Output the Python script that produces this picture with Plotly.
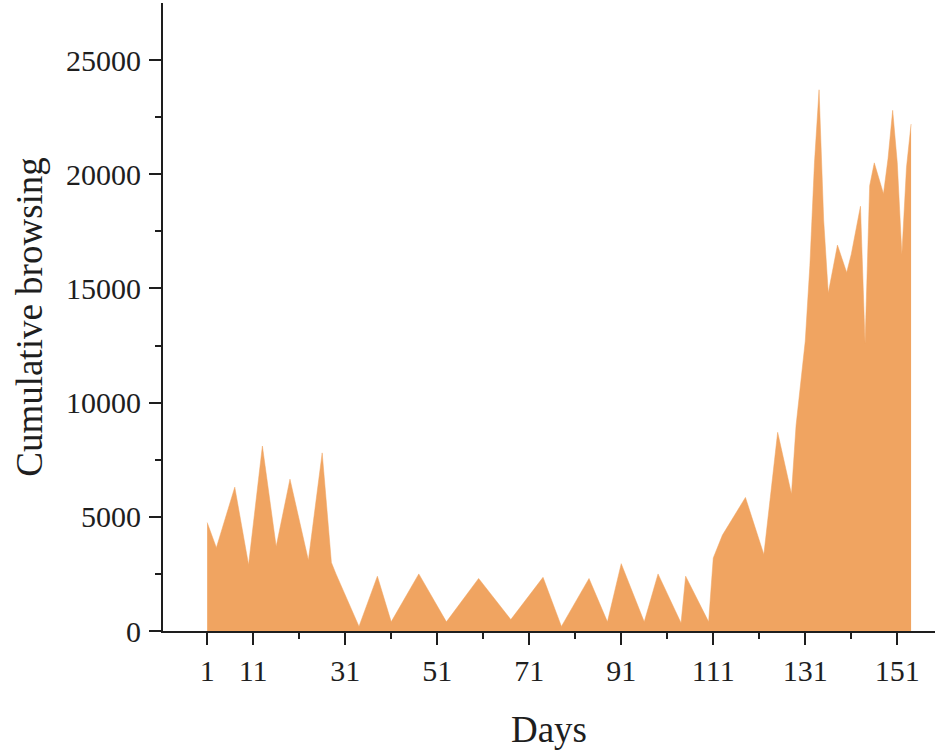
import plotly.graph_objects as go

days = [1, 3, 7, 10, 13, 16, 19, 23, 26, 28, 29, 34, 38, 41, 47, 53, 60, 67, 74, 78,
        84, 88, 91, 96, 99, 104, 105, 110, 111, 113, 118, 122, 125, 128, 129, 130,
        131, 132, 133, 134, 135, 136, 137, 138, 139, 140, 141, 142, 143, 144, 145,
        146, 147, 148, 149, 150, 151, 152, 153, 154]
views = [4750, 3650, 6300, 2900, 8100, 3700, 6650, 3100, 7800, 3000, 2500, 200, 2400,
         400, 2500, 400, 2300, 500, 2350, 200, 2300, 400, 2950, 400, 2500, 350, 2400,
         400, 3200, 4200, 5850, 3350, 8700, 6000, 9000, 10800, 12700, 16000, 20500,
         23700, 18000, 14800, 15900, 16900, 16300, 15700, 16500, 17600, 18600, 12600,
         19500, 20500, 19800, 19150, 20700, 22800, 20500, 16500, 20300, 22200]
assert len(days) == len(views)

x_tick_vals = [1, 11, 31, 51, 71, 91, 111, 131, 151]
x_tick_text = ["1", "11", "31", "51", "71", "91", "111", "131", "151"]
x_minor_vals = [21, 41, 61, 81, 101, 121, 141]
y_tick_vals = [0, 5000, 10000, 15000, 20000, 25000]
y_tick_text = ["0", "5000", "10000", "15000", "20000", "25000"]
y_minor_vals = [2500, 7500, 12500, 17500, 22500]

fill_color = "rgb(240,164,97)"
axis_color = "#1e1e1e"
font_family = "Liberation Serif, Times New Roman, serif"

fig = go.Figure()
fig.add_trace(go.Scatter(
    x=days, y=views, mode="lines", fill="tozeroy",
    line=dict(color=fill_color, width=0.5, shape="linear"),
    fillcolor=fill_color, showlegend=False, hoverinfo="x+y",
))

fig.update_layout(
    width=946, height=752,
    margin=dict(l=163, r=11, t=3, b=121),
    paper_bgcolor="white", plot_bgcolor="white",
    font=dict(family=font_family, size=30, color="#1e1e1e"),
    xaxis=dict(
        range=[-8.6, 159.2], automargin=False,
        tickmode="array", tickvals=x_tick_vals, ticktext=x_tick_text,
        ticks="outside", ticklen=12, tickwidth=2, tickcolor=axis_color,
        minor=dict(tickvals=x_minor_vals, ticklen=6,
                   tickwidth=2, tickcolor=axis_color, ticks="outside", showgrid=False),
        showline=True, linecolor=axis_color, linewidth=2,
        showgrid=False, zeroline=False,
        title=dict(text="Days", font=dict(size=37, family=font_family), standoff=30),
        tickfont=dict(size=30, family=font_family),
    ),
    yaxis=dict(
        range=[0, 27500], automargin=False,
        tickmode="array", tickvals=y_tick_vals, ticktext=y_tick_text,
        ticks="outside", ticklen=12, tickwidth=2, tickcolor=axis_color,
        minor=dict(tickvals=y_minor_vals, ticklen=6,
                   tickwidth=2, tickcolor=axis_color, ticks="outside", showgrid=False),
        showline=True, linecolor=axis_color, linewidth=2,
        showgrid=False, zeroline=False,
        title=dict(text="Cumulative browsing", font=dict(size=37, family=font_family), standoff=12),
        tickfont=dict(size=30, family=font_family),
        ticklabelstandoff=2,
    ),
)

fig.write_html("out.html",
               config={"displayModeBar": False},
               post_script="document.body.style.margin='0';document.body.style.padding='0';")
